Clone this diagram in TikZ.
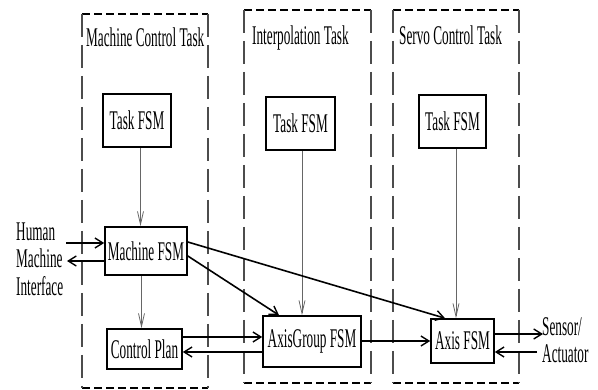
\documentclass[tikz,border=0pt]{standalone}
\usepackage{fontspec}
\newfontfamily\narrowserif[FakeStretch=0.49]{Liberation Serif}
\usetikzlibrary{arrows.meta}

\tikzset{
  lbl/.style={font=\narrowserif\fontsize{27}{27.5}\selectfont, inner sep=0pt},
  fsmbox/.style={lbl, draw, line width=1.6pt, fill=white},
  frameh/.style={draw, line width=1.5pt, dash pattern=on 8pt off 4pt},
  framev/.style={draw=black!70, line width=1.2pt, dash pattern=on 23pt off 8pt},
  flow/.style={line width=1.6pt, -{Straight Barb[length=8pt,width=10pt,line width=1.4pt]}},
  ctrl/.style={line width=0.8pt, draw=black!60, -{Straight Barb[length=13pt,width=6pt,line width=0.8pt]}},
}

\begin{document}
\begin{tikzpicture}[x=1pt, y=-1pt]
\useasboundingbox (0,0) rectangle (598,390);

% task frames: short dashes across, long dashes down the sides
\foreach \l/\r/\t/\b in {82/208/14/388, 244/371/10/383, 393/519/10/383} {
  \draw[frameh] (\l,\t) -- (\r,\t);
  \draw[frameh] (\l,\b) -- (\r,\b);
  \draw[framev] (\l,\t) -- (\l,\b);
  \draw[framev] (\r,\t) -- (\r,\b);
}

\node[lbl, anchor=base west] (t1) at (86,47) {Machine Control Task};
\node[lbl, anchor=base west] (t2) at (252,45) {Interpolation Task};
\node[lbl, anchor=base west] (t3) at (399,45) {Servo Control Task};

% state machines
\node[fsmbox, minimum width=68pt, minimum height=53pt] (tf1) at (137,120.5) {Task FSM};
\node[fsmbox, minimum width=69pt, minimum height=53pt] (tf2) at (300.5,123.5) {Task FSM};
\node[fsmbox, minimum width=67pt, minimum height=53pt] (tf3) at (452.5,121.5) {Task FSM};
\node[fsmbox, minimum width=82pt, minimum height=48pt] (mfsm) at (146,251) {Machine FSM};
\node[fsmbox, minimum width=75pt, minimum height=40pt] (cp) at (144.5,349) {Control Plan};
\node[fsmbox, minimum width=98pt, minimum height=51pt] (ag) at (312,341.5) {AxisGroup FSM};
\node[fsmbox, minimum width=63pt, minimum height=44pt] (ax) at (462.5,341) {Axis FSM};

% outside interfaces
\node[lbl, anchor=west, align=left] (hmi) at (16,259) {Human\\Machine\\Interface};
\node[lbl, anchor=west, align=left] (sa) at (542,340) {Sensor/\\Actuator};

% free ends of the external connectors
\coordinate (hmiin) at (66,243);
\coordinate (hmiout) at (67,261);
\coordinate (sain) at (537,352);
\coordinate (saout) at (543,334);

% task control links
\draw[ctrl] (tf1.south -| 140.5,0) -- (mfsm.north -| 140.5,0);
\draw[ctrl] (mfsm.south -| 141.5,0) -- (cp.north -| 141.5,0);
\draw[ctrl] (tf2.south -| 302,0) -- (ag.north -| 302,0);
\draw[ctrl] (tf3.south -| 456,0) -- (ax.north -| 456,0);

% data flow
\draw[flow] (hmiin) -- (mfsm.west |- hmiin);
\draw[flow] (mfsm.west |- hmiout) -- (hmiout);
\draw[flow] (mfsm.east |- 0,256) -- (ag.north -| 279,0);
\draw[flow] (mfsm.east |- 0,242) -- (ax.north -| 445,0);
\draw[flow] (cp.east |- 0,337) -- (ag.west |- 0,337);
\draw[flow] (ag.west |- 0,352) -- (cp.east |- 0,352);
\draw[flow] (ag.east |- 0,341) -- (ax.west |- 0,341);
\draw[flow] (ax.east |- saout) -- (saout);
\draw[flow] (sain) -- (ax.east |- sain);
\end{tikzpicture}
\end{document}
